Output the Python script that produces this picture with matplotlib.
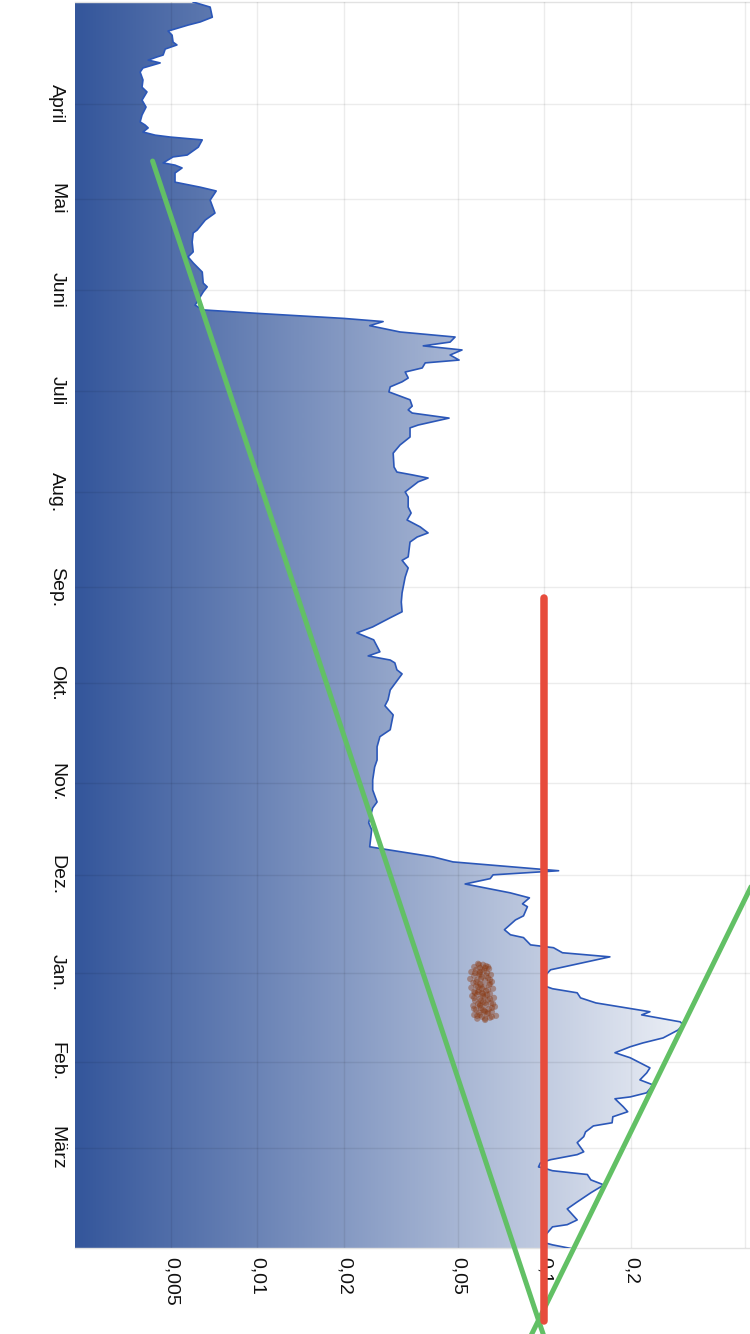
import matplotlib
matplotlib.use("Agg")
import matplotlib.pyplot as plt
import numpy as np
from matplotlib.colors import LinearSegmentedColormap
from matplotlib.image import AxesImage
from matplotlib.ticker import NullLocator

# ---------------- data ----------------
days = [0.0, 1.6, 4.8, 6.3, 7.3, 9.2, 10.5, 12.7, 13.6, 14.9,
        16.8, 17.4, 18.4, 19.3, 20.9, 22.2, 24.7, 27.0, 28.5, 31.1,
        33.3, 35.8, 38.0, 39.0, 39.9, 41.2, 42.2, 42.8, 43.7, 46.0,
        48.5, 49.1, 51.0, 51.7, 52.6, 54.2, 57.1, 58.7, 59.9, 62.8,
        66.9, 69.1, 72.3, 73.2, 76.1, 79.2, 80.8, 82.7, 85.6, 89.1,
        90.3, 91.9, 95.1, 96.1, 97.6, 98.7, 100.3, 101.3, 102.6, 104.6,
        106.2, 107.8, 109.0, 110.3, 111.9, 113.5, 114.4, 116.0, 117.3, 119.2,
        120.4, 122.0, 123.6, 126.1, 128.1, 129.3, 130.3, 131.9, 134.1, 135.0,
        137.9, 140.4, 143.0, 147.4, 149.0, 149.9, 150.9, 152.1, 155.3, 156.9,
        160.1, 162.0, 164.2, 166.4, 168.3, 169.6, 171.2, 175.9, 177.0, 179.4,
        182.3, 185.4, 187.3, 190.2, 193.3, 195.2, 198.1, 200.0, 202.2, 206.0,
        207.3, 208.6, 209.5, 211.7, 213.0, 218.1, 221.2, 223.1, 226.0, 230.7,
        232.9, 236.1, 240.3, 242.5, 246.6, 249.8, 253.6, 255.5, 260.2, 262.4,
        267.8, 268.5, 271.0, 272.6, 275.4, 276.7, 277.9, 279.6, 282.4, 284.0,
        285.9, 286.8, 289.7, 291.0, 294.1, 295.7, 296.6, 298.9, 299.8, 301.4,
        302.7, 306.8, 309.3, 311.9, 312.8, 314.1, 315.7, 317.3, 320.1, 321.1,
        323.3, 324.2, 325.9, 328.4, 330.0, 331.2, 333.1, 334.7, 337.9, 339.5,
        341.7, 343.3, 345.8, 347.1, 347.7, 350.2, 351.8, 353.4, 355.3, 356.3,
        358.2, 359.7, 361.6, 364.5, 365.4, 367.0, 368.0, 369.3, 369.6, 370.5,
        371.7, 373.4, 375.0, 377.5, 380.4, 382.6, 386.1, 387.6, 388.3, 391.8,
        393.1, 394.0, 395.3]

values = [0.00597, 0.00684, 0.00696, 0.00632, 0.00573, 0.00488, 0.00504, 0.00508, 0.00524, 0.00477,
          0.00469, 0.00447, 0.00416, 0.00458, 0.00399, 0.00390, 0.00399, 0.00396, 0.00412, 0.00396,
          0.00409, 0.00396, 0.00390, 0.00406, 0.00416, 0.00399, 0.00440, 0.00496, 0.00642, 0.00622,
          0.00569, 0.00508, 0.00469, 0.00516, 0.00546, 0.00516, 0.00516, 0.00632, 0.00718, 0.00684,
          0.00711, 0.00658, 0.00616, 0.00597, 0.00592, 0.00597, 0.00573, 0.00597, 0.00642, 0.00647,
          0.00668, 0.00647, 0.00616, 0.00606, 0.00647, 0.0100, 0.0200, 0.0274, 0.0246, 0.0314,
          0.0488, 0.0469, 0.0378, 0.0516, 0.0469, 0.0504, 0.0384, 0.0375, 0.0327, 0.0335,
          0.0319, 0.0290, 0.0287, 0.0340, 0.0346, 0.0335, 0.0346, 0.0465, 0.0363, 0.0340,
          0.0340, 0.0314, 0.0297, 0.0299, 0.0306, 0.0346, 0.0393, 0.0363, 0.0327, 0.0335,
          0.0335, 0.0343, 0.0332, 0.0369, 0.0393, 0.0360, 0.0340, 0.0335, 0.0319, 0.0335,
          0.0327, 0.0322, 0.0319, 0.0317, 0.0319, 0.0290, 0.0252, 0.0222, 0.0254, 0.0267,
          0.0243, 0.0290, 0.0301, 0.0306, 0.0319, 0.0290, 0.0285, 0.0278, 0.0297, 0.0290,
          0.0267, 0.0261, 0.0261, 0.0256, 0.0252, 0.0252, 0.0261, 0.0252, 0.0244, 0.0250,
          0.0246, 0.0274, 0.0409, 0.0480, 0.112, 0.0662, 0.0647, 0.0529, 0.0759, 0.0886,
          0.0838, 0.0872, 0.0845, 0.0792, 0.0725, 0.0761, 0.0845, 0.0894, 0.1075, 0.1155,
          0.169, 0.105, 0.099, 0.100, 0.1066, 0.130, 0.1335, 0.151, 0.233, 0.218,
          0.297, 0.304, 0.292, 0.259, 0.220, 0.199, 0.176, 0.199, 0.233, 0.227,
          0.215, 0.239, 0.227, 0.199, 0.176, 0.188, 0.195, 0.173, 0.172, 0.148,
          0.139, 0.137, 0.130, 0.137, 0.130, 0.105, 0.0968, 0.0953, 0.0989, 0.1066,
          0.141, 0.145, 0.161, 0.145, 0.130, 0.120, 0.130, 0.120, 0.1066, 0.0989,
          0.098, 0.1066, 0.126]

month_labels = ["April", "Mai", "Juni", "Juli", "Aug.", "Sep.", "Okt.",
                "Nov.", "Dez.", "Jan.", "Feb.", "März"]
month_pos = [32.3, 62.4, 91.3, 123.3, 155.3, 185.4, 215.8,
             247.5, 276.7, 307.8, 336.0, 363.2]

value_ticks = [0.005, 0.01, 0.02, 0.05, 0.1, 0.2, 0.5]
value_labels = ["0,005", "0,01", "0,02", "0,05", "0,1", "0,2", ""]

red_days = [189.0, 418.1]
red_values = [0.1, 0.1]

green1_days = [50.4, 428.0]
green1_values = [0.00431, 0.1038]
green2_days = [268.8, 427.9]
green2_values = [0.606, 0.0842]

scatter_days = [304.9, 305.2, 305.6, 305.9, 306.2, 306.5, 306.8, 307.1, 307.5, 307.8,
                308.1, 308.4, 308.7, 309.0, 309.4, 309.7, 310.0, 310.3, 310.6, 310.9,
                311.3, 311.6, 311.9, 312.2, 312.5, 312.8, 313.2, 313.5, 313.8, 314.1,
                314.4, 314.7, 315.1, 315.4, 315.7, 316.0, 316.3, 316.6, 317.0, 317.3,
                317.6, 317.9, 318.2, 318.5, 318.9, 319.2, 319.5, 319.8, 320.1, 320.4,
                320.8, 321.1, 321.4, 321.7, 322.0, 322.3, 322.7, 306.2, 311.6, 314.7,
                317.9, 320.1, 308.4, 313.8,
                305.2, 305.9, 306.8, 307.8, 308.7, 309.7, 310.6, 311.3, 312.2, 313.2,
                314.1, 315.1, 316.0, 316.6, 317.3, 318.2, 318.9, 319.5, 320.4, 321.1,
                321.7, 322.3, 321.4, 319.2, 315.7, 312.8, 310.0, 307.5, 317.6, 314.4]
scatter_values = [0.0587, 0.0611, 0.0626, 0.0569, 0.0596, 0.0641, 0.0578, 0.0616, 0.0556, 0.0631,
                  0.0592, 0.0651, 0.0569, 0.0606, 0.0636, 0.0551, 0.0583, 0.0621, 0.0656, 0.0565,
                  0.0596, 0.0641, 0.0578, 0.0616, 0.0556, 0.0662, 0.0592, 0.0626, 0.0569, 0.0606,
                  0.0646, 0.0583, 0.0560, 0.0621, 0.0667, 0.0596, 0.0636, 0.0573, 0.0611, 0.0651,
                  0.0587, 0.0626, 0.0565, 0.0672, 0.0601, 0.0641, 0.0578, 0.0616, 0.0656, 0.0592,
                  0.0631, 0.0569, 0.0678, 0.0606, 0.0646, 0.0583, 0.0621, 0.0621, 0.0601, 0.0631,
                  0.0596, 0.0621, 0.0596, 0.0587,
                  0.0592, 0.0636, 0.0606, 0.0573, 0.0626, 0.0601, 0.0578, 0.0646, 0.0587, 0.0636,
                  0.0573, 0.0611, 0.0646, 0.0601, 0.0621, 0.0596, 0.0656, 0.0611, 0.0636, 0.0596,
                  0.0656, 0.0621, 0.0583, 0.0569, 0.0569, 0.0606, 0.0646, 0.0596, 0.0662, 0.0611]

# ---------------- figure ----------------
plt.rcParams['font.family'] = ['Liberation Sans', 'DejaVu Sans']

X_MIN, X_MAX = 0.002313, 0.52
D_MIN, D_MAX = 0.0, 395.0

fig = plt.figure(figsize=(7.5, 13.34), dpi=100)
ax = fig.add_axes([0.1, 0.06447, 0.9, 0.934])
ax.set_xscale('log')
ax.set_autoscale_on(False)
ax.set_xlim(X_MIN, X_MAX)
ax.set_ylim(D_MAX, D_MIN)

# area shape (invisible) used as clip for the gradient
poly = ax.fill_betweenx(days, X_MIN, values, facecolor='none', edgecolor='none')

cmap = LinearSegmentedColormap.from_list('grad', ['#34569b', '#ffffff'])
grad = np.linspace(0, 1, 512).reshape(1, -1)
im = AxesImage(ax, cmap=cmap, extent=(0, 1, 0, 1), transform=ax.transAxes,
               interpolation='bilinear')
im.set_data(grad)
im.set_zorder(1)
ax.add_image(im)
im.set_clip_path(poly.get_paths()[0], transform=ax.transData)

ax.plot(values, days, color='#2b57b8', lw=1.2, zorder=3)

ax.scatter(scatter_values, scatter_days, s=20, color='#8a3810', alpha=0.42,
           edgecolors='none', zorder=4)

ax.plot(green1_values, green1_days, color='#62c065', lw=3.6,
        solid_capstyle='round', clip_on=False, zorder=5)
ax.plot(green2_values, green2_days, color='#62c065', lw=3.6,
        solid_capstyle='round', clip_on=False, zorder=5)
ax.plot(red_values, red_days, color='#e74c3c', lw=5.4,
        solid_capstyle='round', clip_on=False, zorder=6)

# ticks & grid
ax.xaxis.set_minor_locator(NullLocator())
ax.yaxis.set_minor_locator(NullLocator())
ax.set_xticks(value_ticks)
ax.set_xticklabels(value_labels, rotation=270)
ax.set_yticks(month_pos)
ax.set_yticklabels(month_labels, rotation=270)
ax.tick_params(axis='both', length=0, labelsize=14, colors='#111111')
ax.tick_params(axis='x', pad=6.5)
ax.tick_params(axis='y', pad=7)
for lab in ax.get_yticklabels():
    lab.set_verticalalignment('center')

ax.set_axisbelow(False)
ax.grid(True, color='#000000', alpha=0.075, lw=1)

for s in ax.spines.values():
    s.set_color('#e2e2e2')
    s.set_linewidth(1)
ax.spines['left'].set_visible(False)
ax.spines['right'].set_visible(False)

fig.savefig('out.png', dpi=100)
